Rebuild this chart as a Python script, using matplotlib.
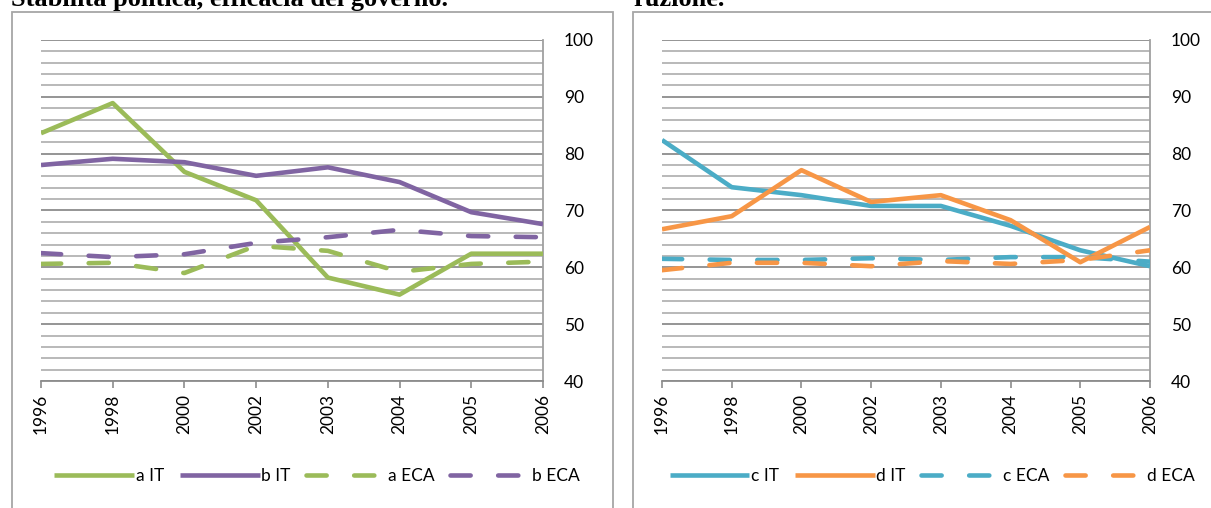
import matplotlib
matplotlib.use("Agg")
import matplotlib.pyplot as plt
from matplotlib.patches import Rectangle

years = ['1996', '1998', '2000', '2002', '2003', '2004', '2005', '2006']
yticks = [40, 50, 60, 70, 80, 90, 100]

a_it = [83.6, 88.9, 76.8, 71.8, 58.2, 55.2, 62.4, 62.4]
b_it = [78.0, 79.1, 78.5, 76.1, 77.6, 75.0, 69.7, 67.6]
a_eca = [60.6, 60.8, 59.0, 63.8, 62.9, 59.2, 60.6, 61.0]
b_eca = [62.5, 61.8, 62.3, 64.3, 65.3, 66.6, 65.5, 65.3]

c_it = [82.4, 74.1, 72.7, 70.8, 70.8, 67.3, 63.0, 60.2]
d_it = [66.7, 69.0, 77.1, 71.5, 72.7, 68.3, 60.9, 67.1]
c_eca = [61.5, 61.3, 61.3, 61.6, 61.3, 61.8, 61.8, 61.0]
d_eca = [59.5, 60.8, 60.8, 60.2, 61.1, 60.6, 61.3, 63.0]

left_labels = ['a IT', 'b IT', 'a ECA', 'b ECA']
right_labels = ['c IT', 'd IT', 'c ECA', 'd ECA']

GREEN = '#9BBB59'
PURPLE = '#8064A2'
BLUE = '#4BACC6'
ORANGE = '#F79646'

plt.rcParams['font.family'] = ['Lato', 'DejaVu Sans']

W, H = 1211, 508
fig = plt.figure(figsize=(W / 100, H / 100), dpi=100)


def fx(px):
    return px / W


def fy(py):
    return 1 - py / H


# panel frames
fig.patches.append(Rectangle((fx(12), fy(560)), fx(613 - 12), (560 - 12) / H,
                             transform=fig.transFigure, fill=False,
                             edgecolor='#a6a6a6', lw=1.3, zorder=0))
fig.patches.append(Rectangle((fx(633), fy(560)), fx(1300 - 633), (560 - 12) / H,
                             transform=fig.transFigure, fill=False,
                             edgecolor='#a6a6a6', lw=1.3, zorder=0))

# titles (cut off at the top, as in the reference)
fig.text(fx(11), fy(6), 'Stabilità politica, efficacia del governo.',
         family='Liberation Serif', weight='bold', fontsize=19,
         va='baseline', ha='left')
fig.text(fx(633), fy(6), 'ruzione.',
         family='Liberation Serif', weight='bold', fontsize=19,
         va='baseline', ha='left')


def make_panel(x0, x1, series, colors, labels, legend_cx):
    ax = fig.add_axes([fx(x0), fy(381), fx(x1 - x0), (381 - 40) / H])
    x = list(range(len(years)))
    for v in range(40, 101, 2):
        col = '#8c8c8c' if v % 10 == 0 else '#b3b3b3'
        ax.axhline(v, color=col, lw=1.3, zorder=1)
    styles = ['-', '-', '--', '--']
    handles = []
    for s, c, st, lab in zip(series, colors, styles, labels):
        if st == '-':
            ln, = ax.plot(x, s, color=c, lw=3.3, solid_joinstyle='round',
                          solid_capstyle='butt', zorder=3, label=lab)
        else:
            ln, = ax.plot(x, s, color=c, lw=3.3, dashes=(4.4, 6.0),
                          dash_capstyle='round', dash_joinstyle='round',
                          zorder=3, label=lab)
        handles.append(ln)
    ax.set_xlim(0, len(years) - 1)
    ax.set_ylim(40, 100)
    ax.set_xticks(x)
    ax.set_xticklabels(years, rotation=90, fontsize=12.5)
    ax.yaxis.tick_right()
    ax.set_yticks(yticks)
    ax.set_yticklabels([str(t) for t in yticks], fontsize=12.5)
    ax.tick_params(axis='y', length=0, pad=15)
    ax.tick_params(axis='x', length=5, width=1.2, color='#8c8c8c',
                   direction='out', pad=4)
    for side in ['top', 'left']:
        ax.spines[side].set_visible(False)
    ax.spines['right'].set_color('#a0a0a0')
    ax.spines['bottom'].set_color('#8c8c8c')
    ax.spines['right'].set_linewidth(1.3)
    ax.spines['bottom'].set_linewidth(1.3)
    fig.legend(handles=handles, loc='center', ncol=4,
               bbox_to_anchor=(fx(legend_cx), fy(476)), frameon=False,
               fontsize=12.5, handlelength=4.6, handletextpad=0.1,
               columnspacing=0.9)
    return ax


make_panel(41, 543, [a_it, b_it, a_eca, b_eca], [GREEN, PURPLE, GREEN, PURPLE],
           left_labels, 317)
make_panel(662, 1150, [c_it, d_it, c_eca, d_eca], [BLUE, ORANGE, BLUE, ORANGE],
           right_labels, 932)

fig.savefig('out.png', dpi=100)
